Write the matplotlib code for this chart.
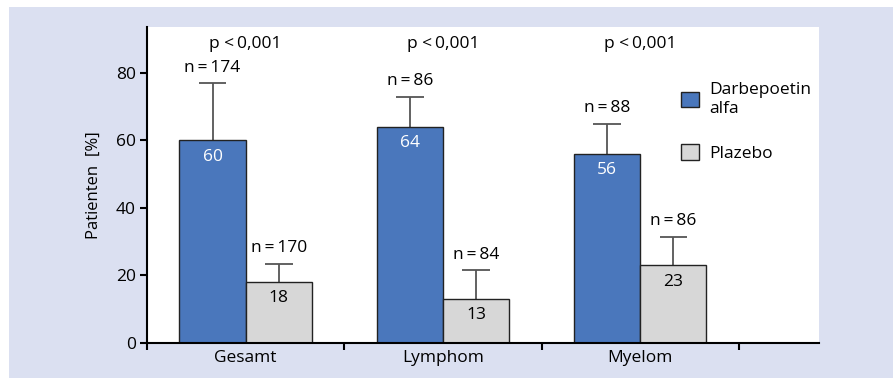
import numpy as np
import matplotlib
matplotlib.use("Agg")
import matplotlib.pyplot as plt
from matplotlib.patches import Rectangle, Patch

plt.rcParams['font.family'] = ['Open Sans', 'DejaVu Sans']

# data
groups = ["Gesamt", "Lymphom", "Myelom"]
darbe = [60, 64, 56]
plazebo = [18, 13, 23]
darbe_err = [17, 9, 9]
plazebo_err = [5.5, 8.5, 8.5]
darbe_n = ["n\u2009=\u2009174", "n\u2009=\u200986", "n\u2009=\u200988"]
plazebo_n = ["n\u2009=\u2009170", "n\u2009=\u200984", "n\u2009=\u200986"]
p_labels = ["p <\u20090,001", "p <\u20090,001", "p <\u20090,001"]
yticks = [0, 20, 40, 60, 80]

blue = "#4a77bc"
grey = "#d7d7d7"
err_col = "#555555"

fig = plt.figure(figsize=(8.94, 3.78), dpi=100)
fig.patch.set_facecolor("white")
# lavender panel behind everything
fig.add_artist(Rectangle((9 / 894, 0), 884 / 894, 371 / 378,
                         transform=fig.transFigure, facecolor="#dbe0f1",
                         edgecolor="none", zorder=0))

ax = fig.add_axes([147 / 894, 35 / 378, 672 / 894, 316 / 378])
ax.set_facecolor("white")

x = np.arange(len(groups))
w = 0.335
off = 0.168
capw = 0.07

ax.bar(x - off, darbe, w, color=blue, edgecolor="#222222", linewidth=1, zorder=2)
ax.bar(x + off, plazebo, w, color=grey, edgecolor="#222222", linewidth=1, zorder=2)

# upper error bars only
for xs, vals, errs in [(x - off, darbe, darbe_err), (x + off, plazebo, plazebo_err)]:
    tops = np.array(vals) + np.array(errs)
    ax.vlines(xs, vals, tops, color=err_col, linewidth=1.3, zorder=1)
    ax.hlines(tops, xs - capw, xs + capw, color=err_col, linewidth=1.3, zorder=1)

fs = 12.5
for i in range(len(groups)):
    ax.text(x[i] - off, darbe[i] - 4.8, str(darbe[i]), ha="center", va="center",
            color="white", fontsize=fs, zorder=3)
    ax.text(x[i] + off, plazebo[i] - 4.8, str(plazebo[i]), ha="center", va="center",
            color="black", fontsize=fs, zorder=3)
    ax.text(x[i] - off, darbe[i] + darbe_err[i] + 4.5, darbe_n[i], ha="center",
            va="center", fontsize=fs)
    ax.text(x[i] + off, plazebo[i] + plazebo_err[i] + 4.5, plazebo_n[i], ha="center",
            va="center", fontsize=fs)
    ax.text(x[i], 88.5, p_labels[i], ha="center", va="center", fontsize=fs)

ax.set_xlim(-0.5, 2.906)
ax.set_ylim(0, 93.6)
ax.set_yticks(yticks)
ax.set_xticks([-0.5, 0.5, 1.5, 2.5])
ax.set_xticklabels([])
ax.set_xticks(x, minor=True)
ax.set_xticklabels(groups, minor=True, fontsize=fs)
ax.tick_params(axis="x", which="minor", length=0, pad=5)
ax.tick_params(axis="x", which="major", length=5, width=1.5, direction="out")
ax.tick_params(axis="y", length=5, width=1.5, labelsize=fs, pad=3)

for s in ["top", "right"]:
    ax.spines[s].set_visible(False)
for s in ["left", "bottom"]:
    ax.spines[s].set_linewidth(1.5)

ax.set_ylabel("Patienten  [%]", fontsize=fs - 0.5, labelpad=10)

handles = [Patch(facecolor=blue, edgecolor="#222222", label="Darbepoetin\nalfa"),
           Patch(facecolor=grey, edgecolor="#222222", label="Plazebo")]
ax.legend(handles=handles, loc="upper left", bbox_to_anchor=(0.772, 0.875),
          frameon=False, fontsize=fs, handlelength=1.0, handleheight=1.0,
          handletextpad=0.6, labelspacing=1.6)

fig.savefig("out.png", dpi=100, facecolor=fig.get_facecolor())
